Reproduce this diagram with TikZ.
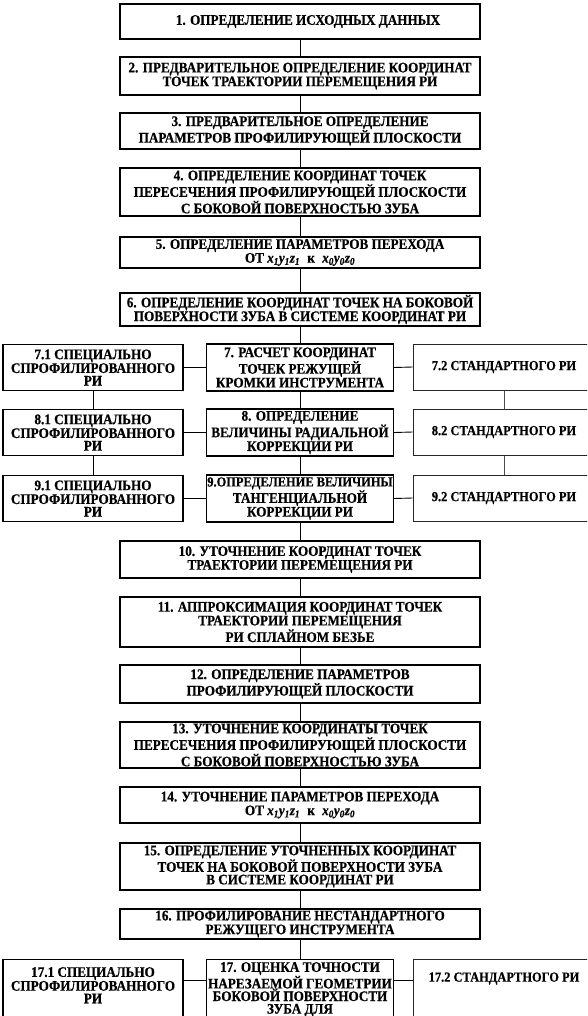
\documentclass[tikz,border=0pt]{standalone}
\usepackage{fontspec}
\setmainfont{Liberation Serif}[BoldFeatures={FakeStretch=0.9,FakeBold=0.6},BoldItalicFeatures={FakeStretch=0.9,FakeBold=0.6}]
\newcommand{\xyz}[1]{{\itshape x\textsubscript{#1}y\textsubscript{#1}z\textsubscript{#1}}}
\begin{document}
\begin{tikzpicture}[x=1pt,y=-1pt,
  txt/.style={font=\bfseries\fontsize{14.6}{12.6}\selectfont, align=center, inner sep=0pt},
  mainbox/.style={txt, draw, line width=1.3pt, minimum width=360pt},
  sidebox/.style={txt, draw, line width=1.3pt, minimum width=180pt, minimum height=46pt},
  midbox/.style={txt, draw, line width=1.3pt, minimum width=187pt, minimum height=47pt},
  stdfont/.style={font=\bfseries\fontsize{13.8}{12}\selectfont},
  stdbox/.style={stdfont, draw=black!85, line width=1pt, inner sep=0pt, minimum width=182pt, minimum height=46pt},
  frame/.style={draw, line width=1.3pt, inner sep=0pt},
  link/.style={line width=0.9pt},
  thinlink/.style={line width=0.6pt, black!70}]
\useasboundingbox (0,0) rectangle (587,1016);
\clip (0,0) rectangle (587,1016);

% main column
\node[mainbox, minimum height=35pt] (n1) at (300,21.5) {\hspace*{16pt}1. ОПРЕДЕЛЕНИЕ ИСХОДНЫХ ДАННЫХ};
\node[mainbox, minimum height=38pt] (n2) at (300,76) {2. ПРЕДВАРИТЕЛЬНОЕ ОПРЕДЕЛЕНИЕ КООРДИНАТ\\ТОЧЕК ТРАЕКТОРИИ ПЕРЕМЕЩЕНИЯ РИ};
\node[mainbox, minimum height=36pt] (n3) at (300,131) {3. ПРЕДВАРИТЕЛЬНОЕ ОПРЕДЕЛЕНИЕ\\ПАРАМЕТРОВ ПРОФИЛИРУЮЩЕЙ ПЛОСКОСТИ};
\node[mainbox, minimum height=48pt] (n4) at (300,192) {4. ОПРЕДЕЛЕНИЕ КООРДИНАТ ТОЧЕК\\ПЕРЕСЕЧЕНИЯ ПРОФИЛИРУЮЩЕЙ ПЛОСКОСТИ\\С БОКОВОЙ ПОВЕРХНОСТЬЮ ЗУБА};
\node[mainbox, minimum height=31pt] (n5) at (300,252.5) {5. ОПРЕДЕЛЕНИЕ ПАРАМЕТРОВ ПЕРЕХОДА\\ОТ \xyz{1}\enspace к\enspace \xyz{0}};
\node[mainbox, minimum height=33pt] (n6) at (300,309.5) {6. ОПРЕДЕЛЕНИЕ КООРДИНАТ ТОЧЕК НА БОКОВОЙ\\ПОВЕРХНОСТИ ЗУБА В СИСТЕМЕ КООРДИНАТ РИ};

% rows 7-9
\node[sidebox] (n71) at (93,367.5) {7.1 СПЕЦИАЛЬНО\\СПРОФИЛИРОВАННОГО\\РИ};
\node[midbox] (n7) at (300,367.5) {7. РАСЧЕТ КООРДИНАТ\\ТОЧЕК РЕЖУЩЕЙ\\КРОМКИ ИНСТРУМЕНТА};
\node[stdbox] (n72) at (504,367) {7.2 СТАНДАРТНОГО РИ};

\node[sidebox] (n81) at (93,432.5) {8.1 СПЕЦИАЛЬНО\\СПРОФИЛИРОВАННОГО\\РИ};
\node[midbox] (n8) at (300,432.5) {8. ОПРЕДЕЛЕНИЕ\\ВЕЛИЧИНЫ РАДИАЛЬНОЙ\\КОРРЕКЦИИ РИ};
\node[stdbox] (n82) at (504,432) {8.2 СТАНДАРТНОГО РИ};

\node[sidebox] (n91) at (93,498.5) {9.1 СПЕЦИАЛЬНО\\СПРОФИЛИРОВАННОГО\\РИ};
\node[midbox] (n9) at (300,498.5) {{\fontsize{13.8}{12.6}\selectfont 9.ОПРЕДЕЛЕНИЕ ВЕЛИЧИНЫ}\\ТАНГЕНЦИАЛЬНОЙ\\КОРРЕКЦИИ РИ};
\node[stdbox] (n92) at (504,498) {9.2 СТАНДАРТНОГО РИ};

% main column continued
\node[mainbox, minimum height=37pt] (n10) at (300,559.5) {10. УТОЧНЕНИЕ КООРДИНАТ ТОЧЕК\\ТРАЕКТОРИИ ПЕРЕМЕЩЕНИЯ РИ};
\node[mainbox, minimum height=50pt] (n11) at (300,622) {11. АППРОКСИМАЦИЯ КООРДИНАТ ТОЧЕК\\ТРАЕКТОРИИ ПЕРЕМЕЩЕНИЯ\\РИ СПЛАЙНОМ БЕЗЬЕ};
\node[mainbox, minimum height=38pt] (n12) at (300,684) {12. ОПРЕДЕЛЕНИЕ ПАРАМЕТРОВ\\ПРОФИЛИРУЮЩЕЙ ПЛОСКОСТИ};
\node[mainbox, minimum height=46pt] (n13) at (300,745) {13. УТОЧНЕНИЕ КООРДИНАТЫ ТОЧЕК\\ПЕРЕСЕЧЕНИЯ ПРОФИЛИРУЮЩЕЙ ПЛОСКОСТИ\\С БОКОВОЙ ПОВЕРХНОСТЬЮ ЗУБА};
\node[mainbox, minimum height=36pt] (n14) at (300,805) {14. УТОЧНЕНИЕ ПАРАМЕТРОВ ПЕРЕХОДА\\ОТ \xyz{1}\enspace к\enspace \xyz{0}};
\node[mainbox, minimum height=47pt] (n15) at (300,866.5) {15. ОПРЕДЕЛЕНИЕ УТОЧНЕННЫХ КООРДИНАТ\\ТОЧЕК НА БОКОВОЙ ПОВЕРХНОСТИ ЗУБА\\В СИСТЕМЕ КООРДИНАТ РИ};
\node[mainbox, minimum height=30pt] (n16) at (300,924) {16. ПРОФИЛИРОВАНИЕ НЕСТАНДАРТНОГО\\РЕЖУЩЕГО ИНСТРУМЕНТА};

% row 17 (cut off by the lower edge)
\node[frame, anchor=north, minimum width=180pt, minimum height=80pt] (b171) at (93,959) {};
\node[frame, anchor=north, minimum width=187pt, minimum height=80pt] (b17) at (300,959) {};
\node[draw=black!85, line width=1pt, inner sep=0pt, anchor=north, minimum width=182pt, minimum height=80pt] (b172) at (504,959) {};
\node[txt, anchor=north] (t171) at (93,967) {17.1 СПЕЦИАЛЬНО\\СПРОФИЛИРОВАННОГО\\РИ};
\node[txt, anchor=north] (t17) at (300,962) {17. ОЦЕНКА ТОЧНОСТИ\\НАРЕЗАЕМОЙ ГЕОМЕТРИИ\\БОКОВОЙ ПОВЕРХНОСТИ\\ЗУБА ДЛЯ};
\node[stdfont, inner sep=0pt] (t172) at (504,978.5) {17.2 СТАНДАРТНОГО РИ};
\coordinate (c17) at (300,980);

% connectors
\foreach \a/\b in {n1/n2,n2/n3,n3/n4,n4/n5,n5/n6,n6/n7,n7/n8,n8/n9,n9/n10,n10/n11,n11/n12,n12/n13,n13/n14,n14/n15,n15/n16,n16/b17}
  \draw[link] (\a.south) -- (\b.north);
\foreach \r in {7,8,9}{
  \draw[link] (n\r1.east) -- (n\r.west);
  \draw[link] (n\r.east) -- (n\r2.west);
}
\draw[link] (n71.south) -- (n81.north);
\draw[link] (n81.south) -- (n91.north);
\draw[thinlink] (n72.south) -- (n82.north);
\draw[thinlink] (n82.south) -- (n92.north);
\draw[link] (b171.east |- c17) -- (b17.west |- c17);
\draw[link] (b17.east |- c17) -- (b172.west |- c17);
\end{tikzpicture}
\end{document}
